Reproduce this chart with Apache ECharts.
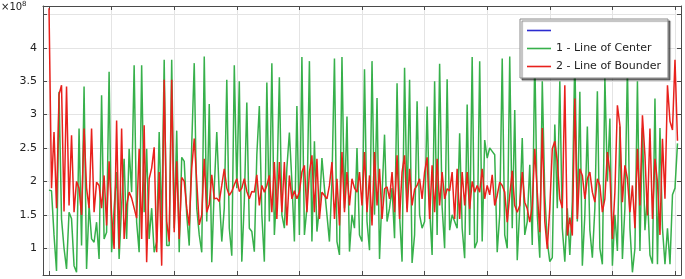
<!DOCTYPE html>
<html><head><meta charset="utf-8">
<script src="https://cdn.jsdelivr.net/npm/echarts@6/dist/echarts.min.js"></script>
<style>html,body{margin:0;padding:0;background:#fff}#c{width:685px;height:279px}</style>
</head><body><div id="c"></div><script>
// sample spacing along the x axis (x axis runs 0..10)
const sampleStep = 0.04;
const xTicks = [0,1,2,3,4,5,6,7,8,9,10];
const yTicks = [1,1.5,2,2.5,3,3.5,4,4.5];
const yLabels = [1,1.5,2,2.5,3,3.5,4];
const seriesNames = [' ', '1 - Line of Center', '2 - Line of Bounder'];

// 1 - Line of Center (x10^8)
const center = [
1.87,1.86,1.2,0.66,3.34,1.44,1.0,0.69,1.54,1.44,
0.74,0.64,2.79,1.04,3.42,0.69,1.64,1.14,1.09,1.39,
0.84,3.29,1.14,1.24,3.64,0.94,1.6,2.14,0.84,1.64,
2.34,1.14,2.49,1.84,3.74,1.39,0.94,3.74,1.54,2.49,
1.14,1.6,0.94,1.1,2.74,1.3,3.82,1.04,1.04,3.82,
1.3,2.76,0.94,2.36,2.3,1.5,1.04,2.54,3.77,1.6,
1.2,0.94,3.87,1.4,3.16,0.79,1.9,2.74,1.8,1.1,
1.6,3.52,1.3,0.89,3.74,1.9,3.5,0.8,1.7,3.18,
1.3,1.25,0.95,2.4,3.13,1.5,0.8,3.48,1.4,3.77,
1.2,1.9,3.56,1.5,1.3,2.2,2.73,2.0,1.1,3.13,
1.2,3.86,1.2,1.6,3.8,1.1,2.6,1.25,1.6,2.35,
1.9,1.5,1.1,2.0,3.84,1.1,0.9,3.86,1.6,2.97,
0.95,1.5,1.3,2.5,1.2,1.1,3.68,1.4,0.97,3.8,
1.5,3.25,0.84,1.8,2.7,1.4,1.6,1.9,1.15,3.47,
1.5,0.8,3.7,1.6,3.52,0.78,1.2,3.2,1.5,1.3,
1.4,3.12,1.6,0.9,3.5,1.2,3.76,1.62,1.0,3.53,
1.27,1.5,1.4,1.3,2.72,1.3,0.85,3.15,1.2,3.86,
1.0,1.1,3.8,1.1,2.62,2.35,2.5,2.45,2.4,0.94,
1.5,3.84,1.2,1.0,3.87,1.3,3.07,0.82,1.6,2.65,
1.2,1.4,2.25,1.05,3.9,1.5,0.86,3.5,1.8,1.1,
0.8,0.86,2.85,1.6,3.5,1.3,0.8,1.6,0.9,1.7,
3.89,1.4,3.34,0.74,1.5,2.82,1.27,0.86,1.6,3.35,
1.0,0.76,3.55,2.0,2.94,0.74,1.5,0.96,2.82,0.84,
1.6,3.7,1.3,0.64,1.0,3.5,0.96,2.8,1.27,1.8,
0.9,0.77,3.24,0.76,2.8,1.3,0.76,1.3,0.76,1.8,
1.9,2.57
];

// 2 - Line of Bounder (x10^8)
const bounder = [
4.59,1.9,2.74,1.6,3.3,3.44,1.55,3.42,1.64,2.69,
1.54,2.0,1.9,1.5,2.79,1.9,1.6,2.79,1.54,1.99,
1.94,1.6,2.09,1.34,2.3,1.5,0.99,2.91,0.99,2.79,
1.14,1.64,1.84,1.75,1.6,1.45,2.49,1.14,2.84,0.79,
2.04,2.2,2.51,0.94,2.14,0.74,3.52,1.4,1.1,3.52,
1.24,2.3,1.14,2.06,2.0,1.6,1.34,2.2,2.64,2.0,
1.35,1.5,2.34,1.54,1.66,2.1,1.74,1.75,1.7,1.94,
2.19,1.9,1.79,1.85,1.95,2.04,1.85,1.9,2.04,1.85,
1.74,1.85,1.84,2.1,1.64,1.94,1.84,1.94,2.09,1.54,
2.29,1.44,2.29,1.54,2.29,1.34,2.09,1.74,1.86,1.74,
1.84,2.14,2.24,1.54,2.14,2.39,1.54,2.34,1.44,1.84,
1.79,1.74,1.94,2.29,1.44,2.04,1.34,2.44,1.54,2.14,
1.64,2.04,1.9,1.84,2.14,1.64,2.44,1.54,2.09,1.34,
2.44,1.64,2.19,1.44,1.89,1.92,1.74,2.14,1.54,2.39,
1.44,2.14,2.39,1.54,2.19,1.64,1.88,1.94,2.04,1.74,
2.14,2.36,1.44,2.24,1.54,2.34,1.64,2.14,1.74,1.89,
1.86,2.14,1.44,2.19,1.44,2.14,1.64,2.14,1.59,2.0,
1.84,1.94,1.84,2.19,1.74,1.94,1.8,2.1,1.64,1.79,
1.99,1.94,1.84,1.39,1.79,2.16,1.64,1.54,1.64,2.14,
1.69,1.59,1.39,1.64,2.49,1.84,1.24,2.8,1.4,0.99,
1.6,2.49,2.6,2.3,1.74,1.6,3.44,1.19,1.46,1.19,
3.24,1.44,2.19,2.09,1.74,2.04,2.14,1.84,1.69,2.04,
1.94,1.54,1.74,2.44,2.14,1.14,1.84,3.14,2.84,1.69,
2.24,2.04,1.54,1.94,1.3,2.49,1.64,2.99,2.39,1.49,
2.79,1.44,2.34,1.99,1.2,2.64,1.74,3.44,2.9,2.77,
3.82,2.61
];

const toPairs = arr => arr.map((v, i) => [+(i * sampleStep).toFixed(2), v]);

const frame = '#4a4a4a';
const gridCol = '#e4e4e4';
const xRange = {min: -0.096, max: 10.096};
const yRange = {min: 0.6, max: 4.625};
const lineIcon = 'path://M0,0H24V1.6H0Z';

const chart = echarts.init(document.getElementById('c'), null, {renderer: 'canvas'});
chart.setOption({
  animation: false,
  backgroundColor: '#fff',
  grid: {left: 43, top: 6, width: 638, height: 269, containLabel: false},
  graphic: [{
    type: 'text', left: 1, top: 1,
    style: {
      text: '×10{s|8}', fill: '#222', font: '10px "DejaVu Sans"',
      rich: {s: {fontSize: 7, verticalAlign: 'top', padding: [0, 0, 5, 0], fill: '#222', fontFamily: 'DejaVu Sans'}}
    }
  }],
  xAxis: [{
    type: 'value', position: 'bottom', ...xRange,
    axisLine: {show: true, onZero: false, lineStyle: {color: frame, width: 1}},
    axisTick: {show: true, inside: true, length: 4, customValues: xTicks, lineStyle: {color: frame}},
    axisLabel: {show: false, customValues: xTicks},
    splitLine: {show: true, lineStyle: {color: gridCol, width: 1}}
  }, {
    type: 'value', position: 'top', ...xRange,
    axisLine: {show: true, onZero: false, lineStyle: {color: frame, width: 1}},
    axisTick: {show: true, inside: true, length: 4, customValues: xTicks, lineStyle: {color: frame}},
    axisLabel: {show: false, customValues: xTicks},
    splitLine: {show: false}
  }],
  yAxis: [{
    type: 'value', position: 'left', ...yRange,
    axisLine: {show: true, onZero: false, lineStyle: {color: frame, width: 1}},
    axisTick: {show: true, inside: true, length: 4, customValues: yTicks, lineStyle: {color: frame}},
    axisLabel: {show: true, customValues: yLabels, color: '#222', fontSize: 11, fontFamily: 'DejaVu Sans', margin: 6},
    splitLine: {show: true, lineStyle: {color: gridCol, width: 1}}
  }, {
    type: 'value', position: 'right', ...yRange,
    axisLine: {show: true, onZero: false, lineStyle: {color: frame, width: 1}},
    axisTick: {show: true, inside: true, length: 4, customValues: yTicks, lineStyle: {color: frame}},
    axisLabel: {show: false, customValues: yTicks},
    splitLine: {show: false}
  }],
  legend: {
    orient: 'vertical', left: 520, top: 19,
    data: seriesNames.map(n => ({name: n, icon: lineIcon})),
    itemWidth: 24, itemHeight: 11, itemGap: 7,
    padding: [6, 7, 6, 7],
    backgroundColor: '#fff', borderColor: '#8a8a8a', borderWidth: 1,
    shadowColor: 'rgba(0,0,0,0.5)', shadowBlur: 1, shadowOffsetX: 2, shadowOffsetY: 2,
    textStyle: {color: '#222', fontSize: 11, fontFamily: 'DejaVu Sans'},
    selectedMode: false
  },
  series: [{
    name: seriesNames[0], type: 'line', data: [], symbol: 'none',
    color: '#2b2bd0', lineStyle: {width: 1.5, color: '#2b2bd0'}
  }, {
    name: seriesNames[1], type: 'line', data: toPairs(center), symbol: 'none',
    color: '#37b04b', lineStyle: {width: 1.5, color: '#37b04b'}, silent: true
  }, {
    name: seriesNames[2], type: 'line', data: toPairs(bounder), symbol: 'none',
    color: '#e8211c', lineStyle: {width: 1.5, color: '#e8211c'}, silent: true
  }]
});
</script></body></html>
